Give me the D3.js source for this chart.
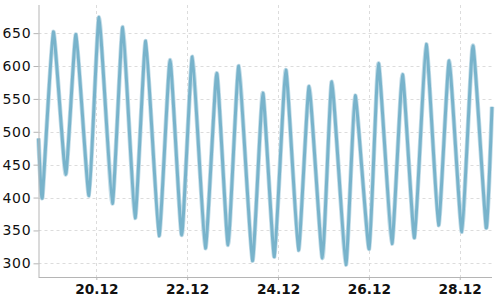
<!DOCTYPE html>
<html>
<head>
<meta charset="utf-8">
<script src="https://cdn.jsdelivr.net/npm/d3@7"></script>
<style>
  html, body { margin: 0; padding: 0; background: #fff; }
  svg { display: block; }
</style>
</head>
<body>
<svg id="chart" width="500" height="300"></svg>
<script>
const times = [
  "2019-12-18 17:27", "2019-12-18 19:28", "2019-12-19 01:16", "2019-12-19 07:50",
  "2019-12-19 13:16", "2019-12-19 20:08", "2019-12-20 01:26", "2019-12-20 08:28",
  "2019-12-20 13:58", "2019-12-20 20:28", "2019-12-21 02:07", "2019-12-21 09:08",
  "2019-12-21 14:58", "2019-12-21 21:08", "2019-12-22 02:45", "2019-12-22 09:37",
  "2019-12-22 15:38", "2019-12-22 21:37", "2019-12-23 03:16", "2019-12-23 10:28",
  "2019-12-23 15:58", "2019-12-23 22:05", "2019-12-24 04:07", "2019-12-24 10:47",
  "2019-12-24 16:26", "2019-12-24 23:28", "2019-12-25 04:26", "2019-12-25 11:50",
  "2019-12-25 16:45", "2019-12-26 00:09", "2019-12-26 05:04", "2019-12-26 12:09",
  "2019-12-26 17:45", "2019-12-27 00:06", "2019-12-27 06:17", "2019-12-27 12:47",
  "2019-12-27 18:26", "2019-12-28 01:09", "2019-12-28 06:58", "2019-12-28 13:59",
  "2019-12-28 17:03"
];
const levels = [
  490, 400, 652, 435,
  648, 403, 674, 391,
  659, 369, 638, 342,
  609, 343, 614, 323,
  589, 328, 600, 304,
  559, 310, 594, 320,
  569, 308, 576, 298,
  555, 322, 604, 330,
  587, 339, 633, 358,
  608, 348, 631, 354,
  538
];
const xTickLabels = ["2019-12-20", "2019-12-22", "2019-12-24", "2019-12-26", "2019-12-28"];
const yTickValues = [300, 350, 400, 450, 500, 550, 600, 650];

const parseT = d3.utcParse("%Y-%m-%d %H:%M");
const parseD = d3.utcParse("%Y-%m-%d");
const data = times.map((t, i) => ({ t: parseT(t), v: levels[i] }));

const svg = d3.select("#chart");
const mLeft = 38.5, mRight = 492, mTop = 5, mBottom = 277;

const x = d3.scaleUtc().domain(d3.extent(data, d => d.t)).range([mLeft, mRight]);
const [vmin, vmax] = d3.extent(data, d => d.v);
const pad = (vmax - vmin) * 0.05;
const y = d3.scaleLinear().domain([vmin - pad, vmax + pad]).range([mBottom, mTop]);

const xTicks = xTickLabels.map(parseD);

// Grid
const grid = svg.append("g").attr("stroke", "#dcdcdc").attr("stroke-width", 1).attr("stroke-dasharray", "3,3");
grid.selectAll("line.h").data(yTickValues).join("line").attr("class", "h")
  .attr("x1", mLeft).attr("x2", mRight)
  .attr("y1", d => Math.round(y(d)) + 0.5).attr("y2", d => Math.round(y(d)) + 0.5);
grid.selectAll("line.v").data(xTicks).join("line").attr("class", "v")
  .attr("y1", mTop).attr("y2", mBottom)
  .attr("x1", d => Math.round(x(d)) + 0.5).attr("x2", d => Math.round(x(d)) + 0.5);

// Line
const line = d3.line().x(d => x(d.t)).y(d => y(d.v)).curve(d3.curveCardinal.tension(0.55));
svg.append("path").datum(data).attr("d", line)
  .attr("fill", "none").attr("stroke", "#c4dde8").attr("stroke-width", 4.6)
  .attr("stroke-linejoin", "round");
svg.append("path").datum(data).attr("d", line)
  .attr("fill", "none").attr("stroke", "#78b3cb").attr("stroke-width", 3)
  .attr("stroke-linejoin", "round");

// Axes
const yAxis = svg.append("g").attr("transform", `translate(${mLeft},0)`)
  .call(d3.axisLeft(y).tickValues(yTickValues).tickSize(5).tickPadding(2).tickFormat(d3.format("d")));
yAxis.select(".domain").attr("stroke", "#b5b5b5").attr("d", `M0.5,${mTop}V${mBottom}`);
yAxis.selectAll(".tick line").attr("stroke", "#b5b5b5");
yAxis.selectAll("text").attr("fill", "#111").style("font-family", "DejaVu Sans")
  .style("font-size", "14px").style("letter-spacing", "0.8px");

const xAxis = svg.append("g").attr("transform", `translate(0,${mBottom})`)
  .call(d3.axisBottom(x).tickValues(xTicks).tickSize(3).tickPadding(4).tickFormat(d3.utcFormat("%d.%m")));
xAxis.select(".domain").attr("stroke", "#b5b5b5").attr("d", `M${mLeft},0.5H${mRight}`);
xAxis.selectAll(".tick line").attr("stroke", "#b5b5b5");
xAxis.selectAll("text").attr("fill", "#111").style("font-family", "DejaVu Sans")
  .style("font-weight", "bold").style("font-size", "13.7px");
</script>
</body>
</html>
